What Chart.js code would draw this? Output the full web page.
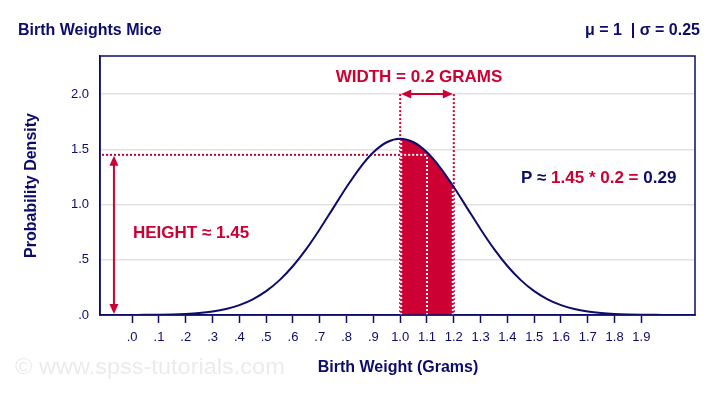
<!DOCTYPE html>
<html>
<head>
<meta charset="utf-8">
<script src="https://cdn.jsdelivr.net/npm/chart.js@4"></script>
<style>
html,body{margin:0;padding:0;background:#fff;}
#wrap{width:720px;height:396px;}
</style>
</head>
<body>
<div id="wrap"><canvas id="c" width="720" height="396"></canvas></div>
<script>
// ---- data ----
const curveX = [0,0.05,0.1,0.15,0.2,0.25,0.3,0.35,0.4,0.45,0.5,0.55,0.6,0.65,0.7,0.75,0.8,0.85,0.9,0.95,1.0,1.05,1.1,1.15,1.2,1.25,1.3,1.35,1.4,1.45,1.5,1.55,1.6,1.65,1.7,1.75,1.8,1.85,1.9,1.95,1.98];
const curveY = [0.0005,0.0012,0.0024,0.0049,0.0095,0.0177,0.0317,0.0543,0.0896,0.1419,0.2160,0.3158,0.4437,0.5989,0.7768,0.9679,1.1587,1.3330,1.4731,1.5642,1.5958,1.5642,1.4731,1.3330,1.1587,0.9679,0.7768,0.5989,0.4437,0.3158,0.2160,0.1419,0.0896,0.0543,0.0317,0.0177,0.0095,0.0049,0.0024,0.0012,0.0007];
const shadeX = [1.0,1.025,1.05,1.075,1.1,1.125,1.15,1.175,1.2];
const shadeY = [1.5958,1.5878,1.5642,1.5256,1.4731,1.4083,1.3330,1.2490,1.1587];
const xTickValues = [0,0.1,0.2,0.3,0.4,0.5,0.6,0.7,0.8,0.9,1.0,1.1,1.2,1.3,1.4,1.5,1.6,1.7,1.8,1.9];
const xTickLabels = ['.0','.1','.2','.3','.4','.5','.6','.7','.8','.9','1.0','1.1','1.2','1.3','1.4','1.5','1.6','1.7','1.8','1.9'];
const yTickValues = [0,0.5,1.0,1.5,2.0];
const yTickLabels = ['.0','.5','1.0','1.5','2.0'];
const widthFrom = 1.0, widthTo = 1.2, widthLevel = 2.0;
const heightValue = 1.45, heightMid = 1.1, heightArrowX = -0.068;
const textTitle = 'Birth Weights Mice';
const textParams = 'μ = 1  | σ = 0.25';
const textXTitle = 'Birth Weight (Grams)';
const textYTitle = 'Probability Density';
const textWidth = 'WIDTH = 0.2 GRAMS';
const textHeight = 'HEIGHT ≈ 1.45';
const textP = [['P ≈ ','navy'],['1.45 * 0.2 =','red'],[' 0.29','navy']];
const textWatermark = '© www.spss-tutorials.com';

const NAVY = '#0c0c6c';
const RED = '#cc0033';
const FONT = '"Liberation Sans", Arial, sans-serif';

function dotted(ctx, x1, y1, x2, y2, color){
  ctx.save();
  ctx.strokeStyle = color; ctx.lineWidth = 2; ctx.setLineDash([2,2]);
  ctx.beginPath(); ctx.moveTo(x1,y1); ctx.lineTo(x2,y2); ctx.stroke();
  ctx.restore();
}
function arrowHead(ctx, x, y, ang){
  const L = 10, W = 4.5;
  ctx.beginPath();
  ctx.moveTo(x, y);
  ctx.lineTo(x - L*Math.cos(ang) + W*Math.sin(ang), y - L*Math.sin(ang) - W*Math.cos(ang));
  ctx.lineTo(x - L*Math.cos(ang) - W*Math.sin(ang), y - L*Math.sin(ang) + W*Math.cos(ang));
  ctx.closePath(); ctx.fill();
}
function dblArrow(ctx, x1, y1, x2, y2){
  ctx.save();
  ctx.strokeStyle = RED; ctx.fillStyle = RED; ctx.lineWidth = 2;
  const ang = Math.atan2(y2-y1, x2-x1);
  ctx.beginPath();
  ctx.moveTo(x1 + 8*Math.cos(ang), y1 + 8*Math.sin(ang));
  ctx.lineTo(x2 - 8*Math.cos(ang), y2 - 8*Math.sin(ang));
  ctx.stroke();
  arrowHead(ctx, x2, y2, ang);
  arrowHead(ctx, x1, y1, ang + Math.PI);
  ctx.restore();
}

const annot = {
  id: 'annot',
  beforeDatasetsDraw(chart){
    const ctx = chart.ctx, xs = chart.scales.x, ys = chart.scales.y, ca = chart.chartArea;
    dotted(ctx, xs.getPixelForValue(widthFrom), ys.getPixelForValue(widthLevel), xs.getPixelForValue(widthFrom), ys.getPixelForValue(0), RED);
    dotted(ctx, xs.getPixelForValue(widthTo), ys.getPixelForValue(widthLevel), xs.getPixelForValue(widthTo), ys.getPixelForValue(0), RED);
    dotted(ctx, ca.left + 2, ys.getPixelForValue(heightValue), xs.getPixelForValue(widthFrom), ys.getPixelForValue(heightValue), RED);
  },
  afterDatasetsDraw(chart){
    const ctx = chart.ctx, xs = chart.scales.x, ys = chart.scales.y, ca = chart.chartArea;
    const W = '#ffffff';
    dotted(ctx, xs.getPixelForValue(widthFrom)+1, ys.getPixelForValue(0), xs.getPixelForValue(widthFrom)+1, ys.getPixelForValue(shadeY[0])+2, W);
    dotted(ctx, xs.getPixelForValue(heightMid), ys.getPixelForValue(0), xs.getPixelForValue(heightMid), ys.getPixelForValue(heightValue), W);
    dotted(ctx, xs.getPixelForValue(widthTo)-1, ys.getPixelForValue(0), xs.getPixelForValue(widthTo)-1, ys.getPixelForValue(shadeY[shadeY.length-1])+2, W);
    dotted(ctx, xs.getPixelForValue(widthFrom), ys.getPixelForValue(heightValue), xs.getPixelForValue(heightMid), ys.getPixelForValue(heightValue), W);
    dblArrow(ctx, xs.getPixelForValue(widthFrom)+1, ys.getPixelForValue(widthLevel), xs.getPixelForValue(widthTo)-1, ys.getPixelForValue(widthLevel));
    dblArrow(ctx, xs.getPixelForValue(heightArrowX), ys.getPixelForValue(heightValue)+1, xs.getPixelForValue(heightArrowX), ys.getPixelForValue(0)-1);
    ctx.save();
    ctx.strokeStyle = NAVY; ctx.lineWidth = 1.5;
    ctx.strokeRect(ca.left, ca.top, ca.right - ca.left, ca.bottom - ca.top);
    ctx.restore();
  },
  afterDraw(chart){
    const ctx = chart.ctx, xs = chart.scales.x, ys = chart.scales.y, ca = chart.chartArea;
    ctx.save();
    ctx.textBaseline = 'middle';
    // watermark
    ctx.save();
    ctx.fillStyle = '#ebebeb';
    ctx.font = '22px ' + FONT;
    ctx.textAlign = 'left';
    ctx.translate(15, 368);
    ctx.scale(1.07, 1);
    ctx.fillText(textWatermark, 0, 0);
    ctx.restore();
    // titles
    ctx.fillStyle = NAVY;
    ctx.font = 'bold 16px ' + FONT;
    ctx.textAlign = 'left';
    ctx.fillText(textTitle, 18, 31);
    ctx.textAlign = 'right';
    ctx.fillText(textParams, 700, 31);
    ctx.textAlign = 'center';
    ctx.fillText(textXTitle, 398, 368);
    ctx.save();
    ctx.translate(32, (ca.top + ca.bottom)/2);
    ctx.rotate(-Math.PI/2);
    ctx.fillText(textYTitle, 0, 0);
    ctx.restore();
    // annotation texts
    ctx.font = 'bold 17px ' + FONT;
    ctx.fillStyle = RED;
    ctx.textAlign = 'center';
    ctx.fillText(textWidth, 419, 77);
    ctx.textAlign = 'left';
    ctx.fillText(textHeight, 133, 233);
    let x = 521;
    for (const [t, c] of textP){
      ctx.fillStyle = c === 'red' ? RED : NAVY;
      ctx.fillText(t, x, 178);
      x += ctx.measureText(t).width;
    }
    ctx.restore();
  }
};

new Chart(document.getElementById('c'), {
  type: 'line',
  data: {
    datasets: [
      {
        data: curveX.map((x,i)=>({x, y: curveY[i]})),
        borderColor: NAVY, borderWidth: 2, pointRadius: 0, fill: false,
        cubicInterpolationMode: 'monotone', order: 0
      },
      {
        data: shadeX.map((x,i)=>({x, y: shadeY[i]})),
        borderWidth: 0, borderColor: 'rgba(0,0,0,0)', backgroundColor: RED, pointRadius: 0,
        fill: 'origin', cubicInterpolationMode: 'monotone', order: 1
      }
    ]
  },
  options: {
    responsive: false, animation: false, devicePixelRatio: 1,
    layout: { padding: { left: 0, right: 25, top: 56, bottom: 0 } },
    plugins: { legend: { display: false }, tooltip: { enabled: false }, title: { display: false } },
    scales: {
      x: {
        type: 'linear', min: -0.12, max: 2.1,
        afterBuildTicks: s => { s.ticks = xTickValues.map(v => ({ value: v })); },
        afterFit: s => { s.height = 81; },
        ticks: { callback: (v, i) => xTickLabels[i], autoSkip: false, maxRotation: 0, color: NAVY, font: { family: FONT, size: 13 }, padding: 7 },
        grid: { drawOnChartArea: false, drawTicks: true, tickLength: 8, tickColor: NAVY, tickWidth: 1.5 },
        border: { color: NAVY, width: 1.5 }
      },
      y: {
        min: 0, max: 2.345,
        afterBuildTicks: s => { s.ticks = yTickValues.map(v => ({ value: v })); },
        afterFit: s => { s.width = 100; },
        ticks: { callback: (v, i) => yTickLabels[i], color: NAVY, font: { family: FONT, size: 13 }, padding: 11 },
        grid: { color: '#e2e2e2', lineWidth: 1.5, drawTicks: false },
        border: { color: NAVY, width: 1.5 }
      }
    }
  },
  plugins: [annot]
});
</script>
</body>
</html>
